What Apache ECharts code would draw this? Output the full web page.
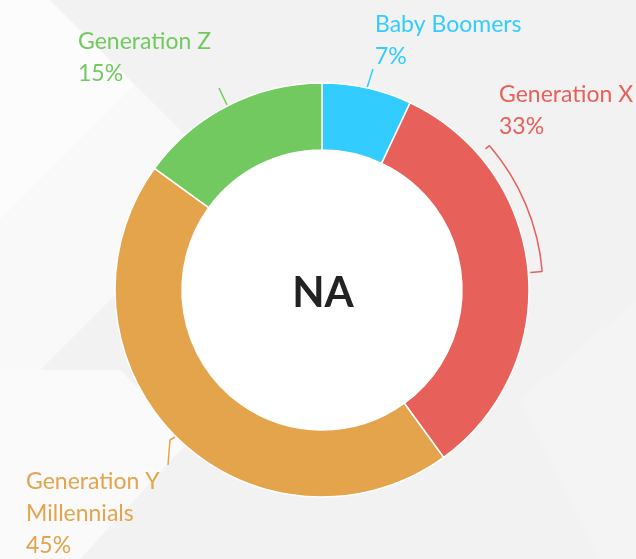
<!DOCTYPE html>
<html>
<head>
<meta charset="utf-8">
<script src="https://cdn.jsdelivr.net/npm/echarts@6/dist/echarts.min.js"></script>
<style>html,body{margin:0;padding:0;}#c{width:636px;height:559px;}</style>
</head>
<body>
<div id="c"></div>
<script>
const categories = ['Baby Boomers', 'Generation X', 'Generation Y\nMillennials', 'Generation Z'];
const values = [7, 33, 45, 15];
const colors = ['#33ccff', '#e8605a', '#e4a44c', '#72c95f'];
const centerText = 'NA';

const cx = 322, cy = 290;
const labelPos = [
  {x: 375, y: 9, line: [[367, 88], [373, 69], [373, 69]]},
  {x: 499, y: 79, line: null},
  {x: 26, y: 466, line: [[175, 437], [170, 440], [168, 465]]},
  {x: 78, y: 26, line: [[227, 105], [219, 88], [219, 88]]}
];

function bracket() {
  const r = 221, a1 = -40.8 * Math.PI / 180, a2 = -4.8 * Math.PI / 180;
  const p = (a, rr) => [cx + rr * Math.cos(a), cy + rr * Math.sin(a)];
  const c = colors[1];
  return {
    type: 'group', silent: true,
    children: [
      {type: 'arc', shape: {cx: cx, cy: cy, r: r, startAngle: a1, endAngle: a2, clockwise: true}, style: {stroke: c, lineWidth: 1.5, fill: null}},
      {type: 'line', shape: {x1: p(a1, r)[0], y1: p(a1, r)[1], x2: p(a1, r - 5)[0], y2: p(a1, r - 5)[1]}, style: {stroke: c, lineWidth: 1.5}},
      {type: 'line', shape: {x1: p(a2, r)[0], y1: p(a2, r)[1], x2: p(a2, r - 12)[0], y2: p(a2, r - 12)[1]}, style: {stroke: c, lineWidth: 1.5}}
    ]
  };
}

const chart = echarts.init(document.getElementById('c'), null, {renderer: 'canvas'});
chart.setOption({
  backgroundColor: '#f2f2f2',
  animation: false,
  graphic: [
    {type: 'polygon', z: -10, silent: true, shape: {points: [[0, 0], [50, 0], [135, 85], [0, 220]]}, style: {fill: '#fcfcfc'}},
    {type: 'polygon', z: -10, silent: true, shape: {points: [[0, 220], [135, 85], [230, 180], [40, 370], [0, 370]]}, style: {fill: '#f9f9f9'}},
    {type: 'polygon', z: -10, silent: true, shape: {points: [[0, 370], [120, 370], [190, 440], [80, 559], [0, 559]]}, style: {fill: '#fafafa'}},
    {type: 'polygon', z: -10, silent: true, shape: {points: [[520, 400], [636, 300], [636, 559], [600, 559]]}, style: {fill: '#f4f4f4'}},
    bracket(),
    {type: 'text', z: 100, silent: true, x: cx + 1, y: cy + 3,
      style: {text: centerText, fill: '#222222', font: 'bold 42px Lato', align: 'center', verticalAlign: 'middle'}}
  ],
  series: [{
    type: 'pie',
    silent: true,
    center: [cx, cy],
    radius: [0, 140],
    label: {show: false},
    labelLine: {show: false},
    itemStyle: {color: '#ffffff', shadowBlur: 6, shadowColor: 'rgba(0,0,0,0.15)'},
    data: [{name: 'inner', value: 1}]
  }, {
    type: 'pie',
    center: [cx, cy],
    radius: [140, 207],
    startAngle: 90,
    clockwise: true,
    avoidLabelOverlap: false,
    itemStyle: {borderColor: '#ffffff', borderWidth: 1.5},
    label: {
      show: true,
      formatter: '{b}\n{c}%',
      fontFamily: 'Lato',
      fontSize: 23,
      lineHeight: 32
    },
    labelLine: {show: true, length: 10, length2: 5, lineStyle: {width: 1.5}},
    labelLayout: function (params) {
      const lp = labelPos[params.dataIndex];
      const out = {x: lp.x, y: lp.y, align: 'left', verticalAlign: 'top'};
      if (lp.line) out.labelLinePoints = lp.line;
      return out;
    },
    data: categories.map((n, i) => ({
      name: n, value: values[i],
      itemStyle: {color: colors[i]},
      label: {color: colors[i]},
      labelLine: {show: i !== 1, lineStyle: {color: colors[i]}}
    }))
  }]
});
</script>
</body>
</html>
